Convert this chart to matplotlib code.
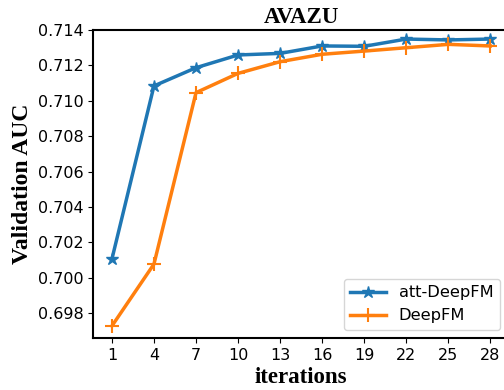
import matplotlib
matplotlib.use("Agg")
import matplotlib.pyplot as plt

iterations = [1, 4, 7, 10, 13, 16, 19, 22, 25, 28]
att_deepfm = [0.70105, 0.71084, 0.71187, 0.71259, 0.71268, 0.71310, 0.71308, 0.71349, 0.71344, 0.71349]
deepfm = [0.69727, 0.70077, 0.71046, 0.71155, 0.71221, 0.71263, 0.71281, 0.71300, 0.71319, 0.71310]
yticks = [0.698, 0.700, 0.702, 0.704, 0.706, 0.708, 0.710, 0.712, 0.714]

fig = plt.figure(figsize=(5.04, 3.9), dpi=100)
ax = fig.add_axes([0.1845, 0.1333, 0.826, 0.7897])
ax.plot(iterations, att_deepfm, color='#1f77b4', lw=2.5, marker='*', ms=9, label='att-DeepFM')
ax.plot(iterations, deepfm, color='#ff7f0e', lw=2.5, marker='+', ms=10, mew=1.5, label='DeepFM')
ax.set_xticks(iterations)
ax.set_yticks(yticks)
ax.set_yticklabels([f"{v:.3f}" for v in yticks])
ax.set_xlim(-0.35, 29.35)
ax.set_ylim(0.69659, 0.714)
ax.tick_params(labelsize=11.5)
for s in ax.spines.values():
    s.set_linewidth(1.5)
serif = ['Liberation Serif', 'DejaVu Serif']
ax.set_title('AVAZU', fontfamily=serif, fontweight='bold', fontsize=16.5, pad=5)
ax.set_ylabel('Validation AUC', fontfamily=serif, fontweight='bold', fontsize=17, labelpad=3)
ax.set_xlabel('iterations', fontfamily=serif, fontweight='bold', fontsize=16.5, labelpad=3)
ax.legend(loc='lower right', fontsize=11.7, handlelength=2.2,
          bbox_to_anchor=(0.997, 0.0))
fig.savefig('out.png', dpi=100)
